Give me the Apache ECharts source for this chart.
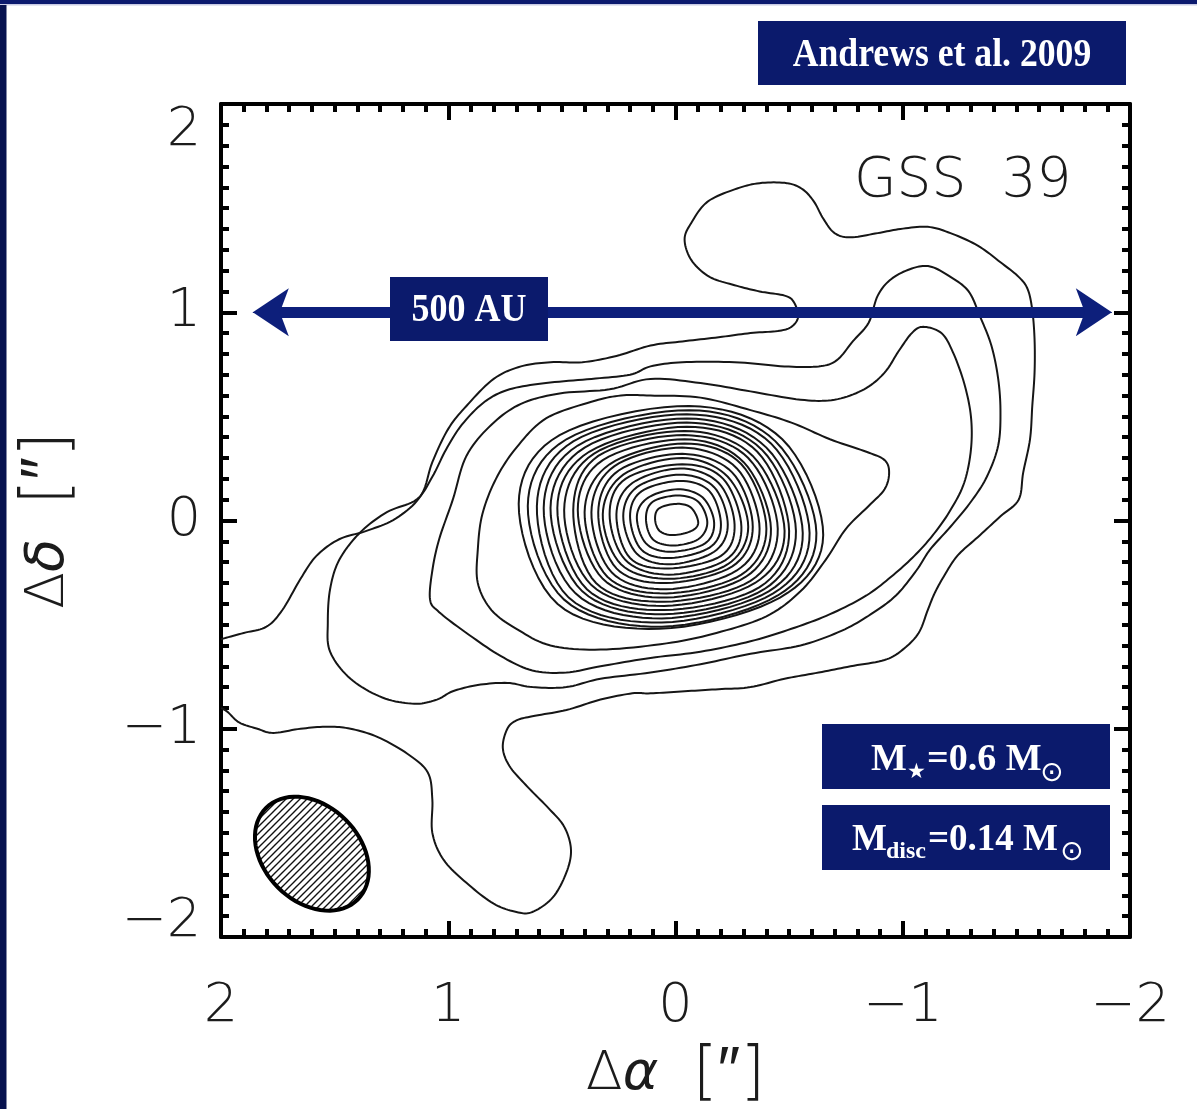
<!DOCTYPE html>
<html><head><meta charset="utf-8">
<script src="https://cdn.jsdelivr.net/npm/echarts@6/dist/echarts.min.js"></script>
<style>html,body{margin:0;padding:0;background:#fff}#c{width:1197px;height:1109px}</style>
</head><body><div id="c"></div>
<script>
// ---- axis ticks ----
const xTickValues = [2, 1, 0, -1, -2];
const yTickValues = [2, 1, 0, -1, -2];

// ---- outer contours (arcsec, [dRA, dDec]) ----
const contour01 = [[2.0,-0.57],[1.90,-0.54],[1.80,-0.51],[1.73,-0.43],[1.65,-0.28],[1.58,-0.17],[1.48,-0.09],[1.36,-0.05],[1.23,0.01],[1.12,0.12],[1.07,0.28],[1.00,0.44],[0.92,0.55],[0.80,0.68],[0.68,0.74],[0.55,0.76],[0.41,0.76],[0.26,0.79],[0.11,0.84],[-0.03,0.86],[-0.19,0.88],[-0.33,0.90],[-0.45,0.91],[-0.51,0.93],[-0.54,0.98],[-0.52,1.05],[-0.48,1.08],[-0.37,1.10],[-0.26,1.13],[-0.15,1.17],[-0.07,1.25],[-0.04,1.35],[-0.07,1.43],[-0.14,1.53],[-0.26,1.59],[-0.37,1.62],[-0.49,1.62],[-0.56,1.59],[-0.61,1.53],[-0.65,1.45],[-0.70,1.38],[-0.77,1.36],[-0.89,1.38],[-0.99,1.40],[-1.11,1.41],[-1.21,1.38],[-1.33,1.32],[-1.43,1.24],[-1.51,1.17],[-1.55,1.11],[-1.57,1.01],[-1.58,0.87],[-1.58,0.71],[-1.57,0.55],[-1.56,0.39],[-1.53,0.23],[-1.51,0.10],[-1.43,0.02],[-1.33,-0.08],[-1.24,-0.17],[-1.18,-0.27],[-1.14,-0.35],[-1.11,-0.43],[-1.07,-0.54],[-1.00,-0.62],[-0.92,-0.67],[-0.77,-0.70],[-0.63,-0.73],[-0.48,-0.76],[-0.33,-0.80],[-0.19,-0.81],[-0.04,-0.82],[0.11,-0.83],[0.19,-0.83],[0.33,-0.86],[0.48,-0.91],[0.63,-0.94],[0.70,-0.96],[0.74,-1.00],[0.76,-1.09],[0.73,-1.18],[0.65,-1.28],[0.56,-1.38],[0.49,-1.47],[0.46,-1.58],[0.48,-1.69],[0.54,-1.81],[0.63,-1.88],[0.70,-1.88],[0.80,-1.84],[0.92,-1.74],[1.02,-1.63],[1.07,-1.50],[1.07,-1.34],[1.09,-1.21],[1.18,-1.12],[1.31,-1.04],[1.43,-1.00],[1.53,-0.99],[1.65,-1.00],[1.77,-1.02],[1.84,-1.00],[1.92,-0.97],[1.97,-0.92],[2.0,-0.90]];
const contour02 = [[1.53,-0.49],[1.52,-0.33],[1.48,-0.19],[1.39,-0.06],[1.27,0.04],[1.14,0.10],[1.07,0.21],[1.01,0.34],[0.94,0.46],[0.84,0.57],[0.73,0.63],[0.57,0.66],[0.37,0.68],[0.20,0.70],[0.11,0.74],[-0.03,0.76],[-0.26,0.76],[-0.48,0.74],[-0.63,0.74],[-0.71,0.77],[-0.78,0.86],[-0.85,0.95],[-0.89,1.08],[-0.95,1.16],[-1.04,1.21],[-1.12,1.22],[-1.21,1.17],[-1.29,1.10],[-1.34,0.98],[-1.39,0.84],[-1.42,0.68],[-1.43,0.52],[-1.42,0.36],[-1.37,0.21],[-1.30,0.09],[-1.21,-0.03],[-1.12,-0.14],[-1.06,-0.24],[-0.97,-0.36],[-0.86,-0.45],[-0.73,-0.53],[-0.55,-0.60],[-0.33,-0.64],[-0.11,-0.69],[0.11,-0.73],[0.33,-0.76],[0.48,-0.80],[0.63,-0.80],[0.74,-0.78],[0.87,-0.79],[0.98,-0.82],[1.05,-0.86],[1.15,-0.88],[1.29,-0.85],[1.43,-0.76],[1.52,-0.63]];
const contour03 = [[1.08,-0.38],[1.07,-0.24],[1.04,-0.09],[0.98,0.10],[0.92,0.31],[0.81,0.46],[0.68,0.56],[0.51,0.61],[0.29,0.63],[0.11,0.68],[-0.11,0.66],[-0.33,0.62],[-0.55,0.58],[-0.70,0.58],[-0.83,0.63],[-0.92,0.71],[-0.98,0.81],[-1.04,0.90],[-1.09,0.93],[-1.17,0.90],[-1.22,0.81],[-1.27,0.66],[-1.30,0.50],[-1.30,0.34],[-1.27,0.18],[-1.21,0.05],[-1.14,-0.06],[-1.06,-0.16],[-0.96,-0.26],[-0.84,-0.36],[-0.68,-0.45],[-0.51,-0.52],[-0.33,-0.58],[-0.11,-0.63],[0.11,-0.66],[0.33,-0.70],[0.48,-0.73],[0.63,-0.72],[0.77,-0.65],[0.92,-0.54],[1.04,-0.44]];
const contour04 = [[0.11,0.60],[-0.11,0.59],[-0.33,0.53],[-0.51,0.47],[-0.68,0.39],[-0.84,0.33],[-0.92,0.29],[-0.94,0.23],[-0.92,0.15],[-0.85,0.07],[-0.75,-0.04],[-0.66,-0.19],[-0.55,-0.34],[-0.40,-0.46],[-0.18,-0.54],[0.04,-0.59],[0.33,-0.62],[0.55,-0.60],[0.70,-0.52],[0.81,-0.43],[0.87,-0.30],[0.87,-0.14],[0.85,0.03],[0.79,0.20],[0.70,0.35],[0.57,0.49],[0.37,0.57],[0.24,0.60]];

// ---- inner contours, points R, UR, T, UL, L, LL, B, LR ----
const ring01 = [[-0.10,-0.01],[-0.07,0.06],[-0.01,0.08],[0.07,0.06],[0.09,0.01],[0.07,-0.05],[0.01,-0.07],[-0.07,-0.05]];
const ring02 = [[-0.14,-0.01],[-0.10,0.09],[-0.01,0.12],[0.10,0.09],[0.13,0.01],[0.10,-0.09],[0.01,-0.12],[-0.10,-0.09]];
const ring03 = [[-0.17,-0.01],[-0.12,0.11],[-0.01,0.15],[0.12,0.11],[0.17,0.02],[0.13,-0.11],[0.02,-0.15],[-0.13,-0.11]];
const ring04 = [[-0.20,-0.02],[-0.15,0.14],[-0.02,0.19],[0.15,0.14],[0.20,0.02],[0.15,-0.14],[0.02,-0.18],[-0.15,-0.13]];
const ring05 = [[-0.23,-0.02],[-0.17,0.16],[-0.02,0.22],[0.17,0.16],[0.23,0.02],[0.17,-0.16],[0.02,-0.21],[-0.17,-0.15]];
const ring06 = [[-0.26,-0.02],[-0.19,0.18],[-0.02,0.25],[0.19,0.18],[0.26,0.03],[0.20,-0.18],[0.03,-0.23],[-0.20,-0.17]];
const ring07 = [[-0.29,-0.03],[-0.21,0.20],[-0.03,0.27],[0.22,0.20],[0.29,0.03],[0.22,-0.19],[0.03,-0.26],[-0.22,-0.19]];
const ring08 = [[-0.32,-0.03],[-0.23,0.21],[-0.03,0.30],[0.23,0.22],[0.32,0.03],[0.24,-0.21],[0.03,-0.28],[-0.23,-0.21]];
const ring09 = [[-0.34,-0.03],[-0.25,0.23],[-0.03,0.32],[0.25,0.24],[0.34,0.04],[0.26,-0.23],[0.04,-0.30],[-0.25,-0.22]];
const ring10 = [[-0.37,-0.04],[-0.27,0.25],[-0.03,0.35],[0.27,0.26],[0.37,0.04],[0.28,-0.25],[0.04,-0.33],[-0.27,-0.24]];
const ring11 = [[-0.40,-0.04],[-0.29,0.27],[-0.04,0.37],[0.29,0.27],[0.40,0.04],[0.30,-0.27],[0.04,-0.35],[-0.29,-0.26]];
const ring12 = [[-0.42,-0.04],[-0.30,0.28],[-0.04,0.39],[0.32,0.29],[0.43,0.05],[0.32,-0.28],[0.04,-0.37],[-0.31,-0.27]];
const ring13 = [[-0.45,-0.04],[-0.32,0.30],[-0.04,0.41],[0.34,0.31],[0.45,0.05],[0.35,-0.30],[0.05,-0.39],[-0.33,-0.29]];
const ring14 = [[-0.48,-0.05],[-0.34,0.31],[-0.04,0.43],[0.36,0.32],[0.49,0.05],[0.37,-0.31],[0.05,-0.41],[-0.35,-0.30]];
const ring15 = [[-0.50,-0.05],[-0.36,0.33],[-0.05,0.45],[0.38,0.33],[0.52,0.06],[0.39,-0.33],[0.05,-0.43],[-0.37,-0.32]];
const ring16 = [[-0.53,-0.05],[-0.38,0.34],[-0.05,0.47],[0.40,0.35],[0.55,0.06],[0.41,-0.34],[0.05,-0.45],[-0.39,-0.33]];
const ring17 = [[-0.56,-0.06],[-0.40,0.35],[-0.05,0.49],[0.43,0.36],[0.58,0.06],[0.44,-0.35],[0.06,-0.47],[-0.41,-0.34]];
const ring18 = [[-0.59,-0.06],[-0.42,0.37],[-0.05,0.51],[0.45,0.38],[0.61,0.07],[0.47,-0.37],[0.06,-0.49],[-0.43,-0.35]];
const ring19 = [[-0.62,-0.06],[-0.44,0.38],[-0.06,0.53],[0.48,0.39],[0.65,0.07],[0.49,-0.38],[0.06,-0.51],[-0.45,-0.36]];
const ring20 = [[-0.65,-0.07],[-0.47,0.39],[-0.06,0.55],[0.51,0.41],[0.69,0.08],[0.52,-0.40],[0.07,-0.52],[-0.46,-0.37]];

// ---- beam ----
const beamCenter = [1.60, -1.60];
const beamAxes = [0.57, 0.46];   // major, minor (arcsec, full width)
const beamTilt = -45;            // degrees, tilt on the page

// ---- scale bar (500 AU) ----
const arrowTips = [1.86, -1.92];
const arrowShaft = [1.77, -1.83];
const arrowDec = 1.0;

const openContours = [contour01];
const closedContours = [contour02, contour03, contour04, ring20, ring19, ring18, ring17, ring16, ring15, ring14, ring13, ring12, ring11, ring10, ring09, ring08, ring07, ring06, ring05, ring04, ring03, ring02, ring01];
const allContours = openContours.concat(closedContours);

const NAVY = '#0b1a6c';
const ARROW = '#0d1f7b';
const LABEL_FONT = '"DejaVu Sans", "Liberation Sans", sans-serif';
const INK = '#1c1c1c';

// Catmull-Rom smoothing of a pixel polyline (rendering only)
function spline(pts, closed, seg) {
  const n = pts.length, out = [];
  const get = i => closed ? pts[(i + n) % n] : pts[Math.max(0, Math.min(n - 1, i))];
  const last = closed ? n : n - 1;
  for (let i = 0; i < last; i++) {
    const p0 = get(i - 1), p1 = get(i), p2 = get(i + 1), p3 = get(i + 2);
    for (let s = 0; s < seg; s++) {
      const t = s / seg, t2 = t * t, t3 = t2 * t;
      const f = k => 0.5 * (2 * p1[k] + (-p0[k] + p2[k]) * t + (2 * p0[k] - 5 * p1[k] + 4 * p2[k] - p3[k]) * t2 + (-p0[k] + 3 * p1[k] - 3 * p2[k] + p3[k]) * t3);
      out.push([f(0), f(1)]);
    }
  }
  if (!closed) out.push(pts[n - 1]);
  return out;
}

function hatch() {
  const c = document.createElement('canvas');
  c.width = 7; c.height = 7;
  const g = c.getContext('2d');
  g.strokeStyle = '#111'; g.lineWidth = 1.4;
  g.beginPath();
  g.moveTo(-1, 8); g.lineTo(8, -1);
  g.moveTo(-4.5, 4.5); g.lineTo(4.5, -4.5);
  g.moveTo(2.5, 11.5); g.lineTo(11.5, 2.5);
  g.stroke();
  return c;
}
const hatchPattern = { image: hatch(), repeat: 'repeat' };

const fmt = v => (v < 0 ? '\u2212' + Math.abs(v) : String(v));

function axisCommon(showLabels) {
  return {
    type: 'value', min: -2, max: 2, interval: 1,
    axisLine: { show: true, onZero: false, lineStyle: { color: '#000', width: 4 } },
    axisTick: { show: true, inside: true, length: 16, lineStyle: { color: '#000', width: 4 } },
    minorTick: { show: true, splitNumber: 10, length: 8, lineStyle: { color: '#000', width: 4 } },
    splitLine: { show: false }, minorSplitLine: { show: false },
    axisLabel: { show: showLabels, formatter: fmt, color: INK, fontSize: 54, fontFamily: LABEL_FONT, fontWeight: 200 }
  };
}
const nameRich = {
  n: { fontSize: 54, fontFamily: LABEL_FONT, fontWeight: 200, color: INK },
  i: { fontSize: 54, fontFamily: LABEL_FONT, fontWeight: 200, fontStyle: 'italic', color: INK },
  b: { fontSize: 64, fontFamily: LABEL_FONT, fontWeight: 200, color: INK }
};

const chart = echarts.init(document.getElementById('c'), null, { renderer: 'canvas' });
const xMain = Object.assign(axisCommon(true), {
  inverse: true, position: 'bottom',
  name: '{n|\u0394}{i|\u03b1}{n|  }{b|[\u2033]}', nameLocation: 'middle', nameGap: 106,
  nameTextStyle: { color: INK, fontSize: 54, fontFamily: LABEL_FONT, fontWeight: 200, rich: nameRich }
});
xMain.axisLabel.margin = 43;
const xTop = Object.assign(axisCommon(false), { inverse: true, position: 'top' });
const yMain = Object.assign(axisCommon(true), {
  position: 'left',
  name: '{n|\u0394}{i|\u03b4}{n|  }{b|[\u2033]}', nameLocation: 'middle', nameGap: 140,
  nameTextStyle: { color: INK, fontSize: 54, fontFamily: LABEL_FONT, fontWeight: 200, rich: nameRich }
});
yMain.axisLabel.margin = 20;
yMain.axisLabel.verticalAlignMaxLabel = 'top';
yMain.axisLabel.formatter = v => (v === yTickValues[yTickValues.length - 1] ? '{lo|' + fmt(v) + '}' : fmt(v));
yMain.axisLabel.rich = { lo: { padding: [0, 0, 30, 0], fontSize: 54, fontFamily: LABEL_FONT, fontWeight: 200, color: INK } };
const yRight = Object.assign(axisCommon(false), { position: 'right' });

function textEl(text, x, y, font) {
  return { type: 'text', x: x, y: y, z: 120,
    style: { text: text, fill: '#fff', font: font, align: 'left', verticalAlign: 'middle' } };
}
const serifB = s => 'bold ' + s + 'px "Liberation Serif", "Times New Roman", serif';
const symF = s => s + 'px "DejaVu Sans", sans-serif';

const option = {
  animation: false,
  backgroundColor: '#ffffff',
  grid: { left: 221, top: 104, width: 909, height: 833, containLabel: false, outerBoundsMode: 'none' },
  xAxis: [xMain, xTop],
  yAxis: [yMain, yRight],
  series: [
    {
      type: 'custom', coordinateSystem: 'cartesian2d', clip: true, silent: true, z: 3,
      data: allContours.map((c, i) => [0, 0, i]),
      encode: { x: 0, y: 1 },
      renderItem: function (params, api) {
        const idx = api.value(2);
        const open = idx < openContours.length;
        const pts = spline(allContours[idx].map(p => api.coord(p)), !open, 10);
        return {
          type: open ? 'polyline' : 'polygon',
          shape: { points: pts },
          style: { fill: 'none', stroke: '#161616', lineWidth: 2 }
        };
      }
    },
    {
      type: 'custom', coordinateSystem: 'cartesian2d', silent: true, z: 4,
      data: [[beamCenter[0], beamCenter[1]]],
      renderItem: function (params, api) {
        const c = api.coord([api.value(0), api.value(1)]);
        const s = api.size([1, 1]);
        const a = beamAxes[0] / 2 * s[0], b = beamAxes[1] / 2 * s[1];
        const t = beamTilt * Math.PI / 180;
        const pts = [];
        for (let k = 0; k < 72; k++) {
          const u = k / 72 * Math.PI * 2;
          const ex = b * Math.cos(u), ey = a * Math.sin(u);
          pts.push([c[0] + ex * Math.cos(t) - ey * Math.sin(t), c[1] + ex * Math.sin(t) + ey * Math.cos(t)]);
        }
        return { type: 'polygon', shape: { points: pts }, style: { fill: hatchPattern, stroke: '#000', lineWidth: 4 } };
      }
    },
    {
      type: 'line', data: [], silent: true, z: 6,
      markLine: {
        silent: true, symbol: ['none', 'none'], symbolSize: [36, 36], animation: false,
        lineStyle: { color: ARROW, width: 11, type: 'solid', opacity: 1 },
        label: { show: false }, emphasis: { disabled: true },
        data: [
          [{ coord: [arrowShaft[0], arrowDec] }, { coord: [arrowShaft[1], arrowDec] }],
          [{ coord: [arrowTips[0], arrowDec], symbol: 'arrow', lineStyle: { width: 1, color: ARROW } },
           { coord: [arrowTips[1], arrowDec], symbol: 'arrow' }]
        ]
      }
    }
  ],
  graphic: [
    { type: 'rect', z: 100, shape: { x: 0, y: 0, width: 1197, height: 4 }, style: { fill: '#0c1a6e' } },
    { type: 'rect', z: 100, shape: { x: 0, y: 4, width: 1197, height: 1.5 }, style: { fill: '#c9cbe4' } },
    { type: 'rect', z: 100, shape: { x: 0, y: 5, width: 6.5, height: 1104 }, style: { fill: '#07124f' } },
    { type: 'text', z: 110, x: 854, y: 182, style: { text: 'GSS  39', fill: INK, font: '200 55px ' + LABEL_FONT, align: 'left', verticalAlign: 'middle' } },
    { type: 'rect', z: 110, shape: { x: 758, y: 21, width: 368, height: 64 }, style: { fill: NAVY } },
    { type: 'text', z: 120, x: 942, y: 55, scaleX: 0.87, style: { text: 'Andrews et al. 2009', fill: '#fff', font: serifB(41), align: 'center', verticalAlign: 'middle' } },
    { type: 'rect', z: 110, shape: { x: 390, y: 277, width: 158, height: 64 }, style: { fill: NAVY } },
    { type: 'text', z: 120, x: 469, y: 311, scaleX: 0.9, style: { text: '500 AU', fill: '#fff', font: serifB(40), align: 'center', verticalAlign: 'middle' } },
    { type: 'rect', z: 110, shape: { x: 822, y: 724, width: 288, height: 65 }, style: { fill: NAVY } },
    textEl('M', 871, 760, serifB(38)),
    textEl('\u2605', 907, 773, symF(21)),
    textEl('=0.6 M', 927, 760, serifB(38)),
    textEl('\u2299', 1040, 774, symF(28)),
    { type: 'rect', z: 110, shape: { x: 822, y: 805, width: 288, height: 65 }, style: { fill: NAVY } },
    textEl('M', 852, 840, serifB(37)),
    textEl('disc', 886, 852, serifB(24)),
    textEl('=0.14 M', 928, 840, serifB(37)),
    textEl('\u2299', 1060, 853, symF(28))
  ]
};
chart.setOption(option);
</script>
</body></html>
